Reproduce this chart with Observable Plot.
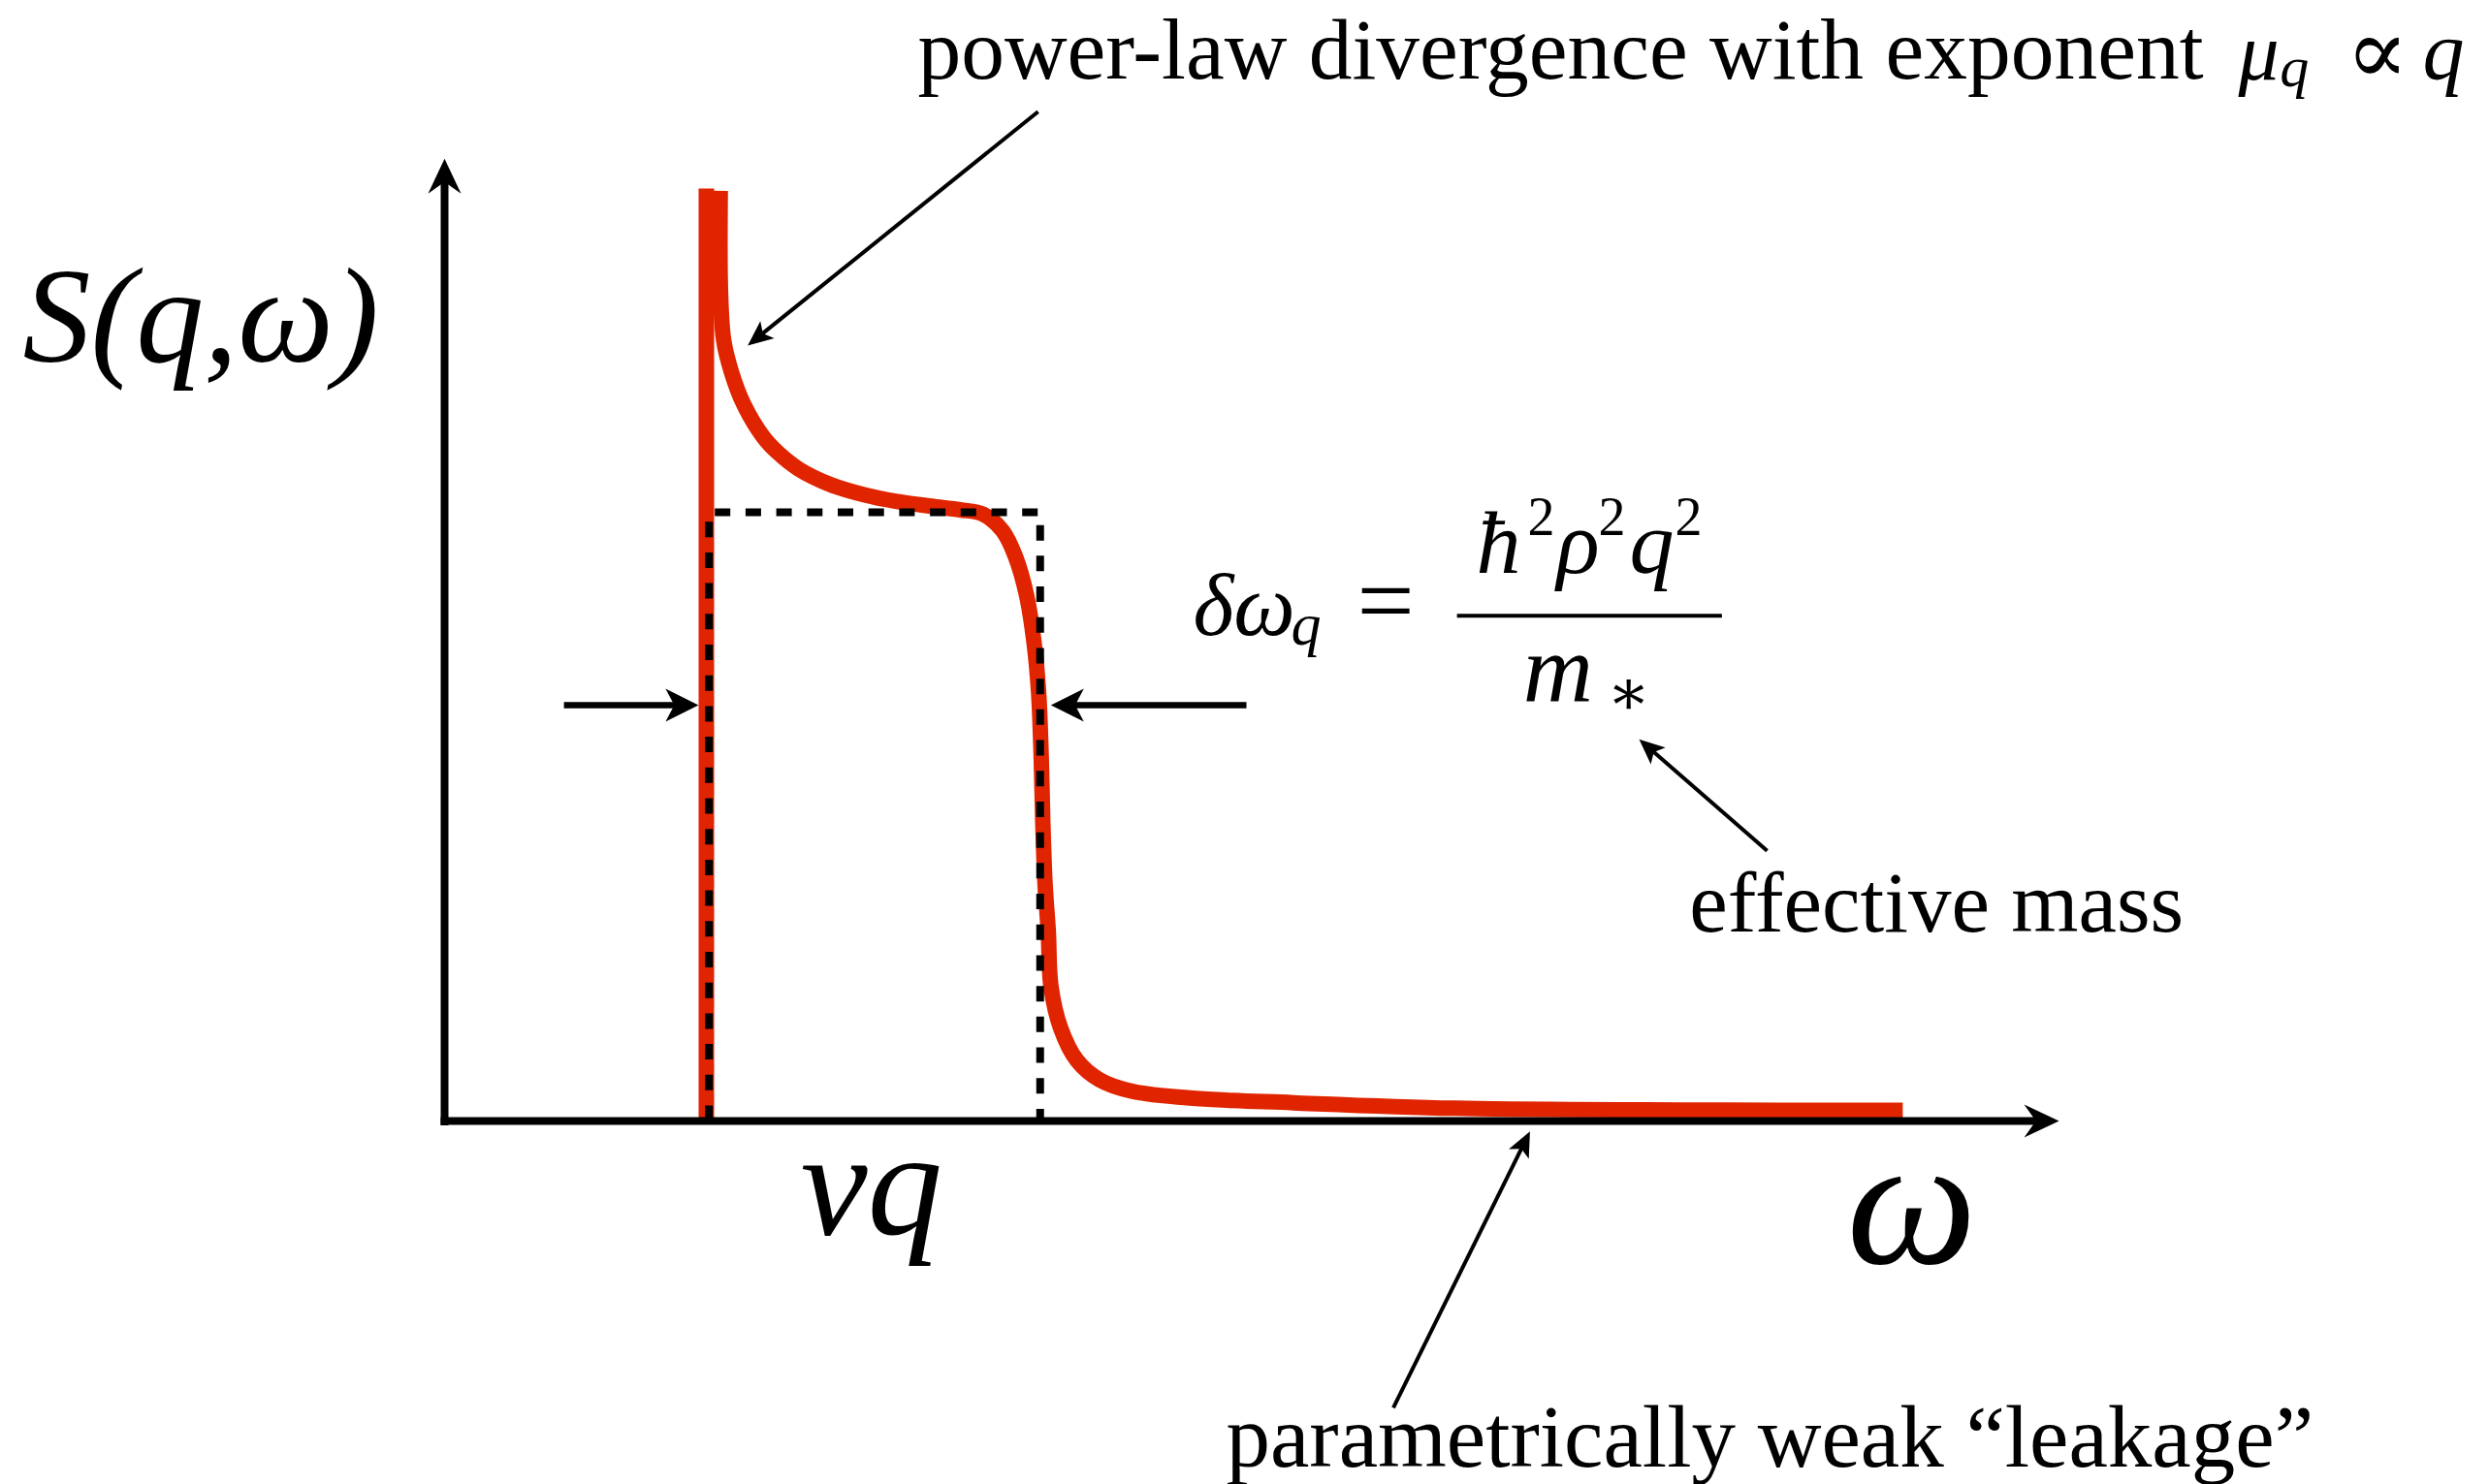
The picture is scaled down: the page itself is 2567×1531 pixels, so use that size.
<!DOCTYPE html>
<html>
<head>
<meta charset="utf-8">
<script src="https://cdn.jsdelivr.net/npm/d3@7"></script>
<script src="https://cdn.jsdelivr.net/npm/@observablehq/plot@0.6"></script>
<style>
  html, body { margin: 0; padding: 0; background: #fff; }
  svg { display: block; }
</style>
</head>
<body>
<div id="chart"></div>
<script>
// ω is measured in units of vq, S(q, ω) in units of the plateau height.

// Sharp threshold edge at ω = vq
const edgeOmega = [1.0, 1.0];
const edgeS = [0.0, 1.532];

// Power-law divergence, plateau, smeared upper edge and weak high-frequency tail
const branchOmega = [1.053, 1.054, 1.066, 1.096, 1.143, 1.217, 1.273, 1.353, 1.477, 1.600,
  1.723, 1.859, 1.970, 2.057, 2.131, 2.180, 2.223, 2.252, 2.269, 2.279, 2.285, 2.294,
  2.306, 2.316, 2.353, 2.415, 2.501, 2.625, 2.872, 3.242, 3.859, 4.785, 5.570];
const branchS = [1.528, 1.363, 1.283, 1.230, 1.177, 1.124, 1.098, 1.071, 1.045, 1.029,
  1.018, 1.010, 1.004, 0.997, 0.970, 0.928, 0.864, 0.785, 0.705, 0.599, 0.493, 0.387,
  0.312, 0.222, 0.153, 0.100, 0.068, 0.049, 0.037, 0.030, 0.021, 0.018, 0.0175];

// Free-fermion box between vq and vq + δω_q
const boxOmega = [1.01, 1.01, 2.275, 2.275];
const boxS = [0, 1.0, 1.0, 0];

// Coordinate axes (from, to)
const axisFrom = [[0, -0.007], [-0.015, 0]];
const axisTo = [[0, 1.581], [6.167, 0]];

// Arrows marking the width δω_q
const widthFrom = [[0.456, 0.683], [3.063, 0.683]];
const widthTo = [[0.970, 0.683], [2.316, 0.683]];

// Pointers from the captions
const pointerFrom = [[2.267, 1.658], [5.052, 0.444], [3.624, -0.471]];
const pointerTo = [[1.158, 1.274], [4.563, 0.627], [4.146, -0.017]];

const captions = [
  "power-law divergence with exponent",
  "effective mass",
  "parametrically weak \u201Cleakage\u201D"
];
const axisLabels = ["S(q,\u03C9)", "vq", "\u03C9"];

// ---------------------------------------------------------------------------
const W = 2567, H = 1531;
const xDomain = [-1.6963, 7.8111];
const yDomain = [-0.5971, 1.8408];
const kx = W / (xDomain[1] - xDomain[0]);
const ky = H / (yDomain[1] - yDomain[0]);

const red = "#e12400";
const serif = "'Liberation Serif', 'DejaVu Serif', serif";

const curve = [
  ...edgeOmega.map((w, i) => ({omega: w, s: edgeS[i], part: "edge"})),
  ...branchOmega.map((w, i) => ({omega: w, s: branchS[i], part: "branch"}))
];
const box = boxOmega.map((w, i) => ({omega: w, s: boxS[i]}));

// Arrow helpers: shaft stops short of the tip so the head stays sharp
function arrows(from, to, inset) {
  return from.map((a, i) => {
    const b = to[i];
    const dx = (b[0] - a[0]) * kx, dy = (b[1] - a[1]) * ky;
    const len = Math.hypot(dx, dy);
    return {
      x1: a[0], y1: a[1], x2: b[0], y2: b[1],
      ex: b[0] - (dx / len) * inset / kx,
      ey: b[1] - (dy / len) * inset / ky,
      angle: Math.atan2(dx, dy) * 180 / Math.PI
    };
  });
}
function stealth(len, half, notch) {
  return {
    draw(ctx) {
      ctx.moveTo(0, 0);
      ctx.lineTo(half, len);
      ctx.lineTo(0, len - notch);
      ctx.lineTo(-half, len);
      ctx.closePath();
    }
  };
}
function arrowMarks(data, width, head) {
  return [
    Plot.link(data, {x1: "x1", y1: "y1", x2: "ex", y2: "ey", stroke: "black", strokeWidth: width, strokeLinecap: "butt"}),
    Plot.dot(data, {x: "x2", y: "y2", symbol: head, rotate: "angle", r: 5, fill: "black", stroke: "none"})
  ];
}

const axes = arrows(axisFrom, axisTo, 14);
const widths = arrows(widthFrom, widthTo, 12);
const pointers = arrows(pointerFrom, pointerTo, 10);

// Text pieces (upright and italic), baseline-anchored
const uprightText = [
  {t: captions[0], x: 1.807, y: 1.713, s: 89.5},
  {t: "\u221D", x: 7.262, y: 1.704, s: 96},
  {t: "=", x: 3.485, y: 0.798, s: 105},
  {t: "2", x: 4.137, y: 0.962, s: 56},
  {t: "2", x: 4.407, y: 0.962, s: 56},
  {t: "2", x: 4.700, y: 0.962, s: 56},
  {t: "\u2217", x: 4.441, y: 0.668, s: 66},
  {t: captions[1], x: 4.755, y: 0.312, s: 89},
  {t: captions[2], x: 2.985, y: -0.568, s: 91}
];
const italicText = [
  {t: "\u03BC", x: 6.852, y: 1.711, s: 84},
  {t: "q", x: 7.010, y: 1.700, s: 60},
  {t: "q", x: 7.556, y: 1.713, s: 86},
  {t: axisLabels[0], x: -1.611, y: 1.247, s: 140},
  {t: axisLabels[1], x: 1.360, y: -0.185, s: 155},
  {t: axisLabels[2], x: 5.356, y: -0.234, s: 190},
  {t: "\u03B4\u03C9", x: 2.859, y: 0.798, s: 90},
  {t: "q", x: 3.233, y: 0.782, s: 62},
  {t: "\u0127", x: 3.941, y: 0.901, s: 92},
  {t: "\u03C1", x: 4.248, y: 0.901, s: 92},
  {t: "q", x: 4.526, y: 0.901, s: 92},
  {t: "m", x: 4.119, y: 0.691, s: 100}
];

const chart = Plot.plot({
  width: W,
  height: H,
  margin: 0,
  x: {domain: xDomain, axis: null},
  y: {domain: yDomain, axis: null},
  style: {background: "white", overflow: "visible"},
  marks: [
    Plot.line(curve, {x: "omega", y: "s", z: "part", stroke: red, strokeWidth: 16,
      curve: "catmull-rom", strokeLinecap: "butt", strokeLinejoin: "round"}),
    Plot.line(box, {x: "omega", y: "s", stroke: "black", strokeWidth: 8,
      strokeDasharray: "16,15.7", strokeLinejoin: "miter", strokeLinecap: "butt"}),
    ...arrowMarks(axes, 8, stealth(36, 17, 12)),
    ...arrowMarks(widths, 6.5, stealth(34, 17, 9)),
    ...arrowMarks(pointers, 4, stealth(26, 11.5, 6)),
    // fraction bar of δω_q
    Plot.ruleY([0.830], {x1: 3.869, x2: 4.881, stroke: "black", strokeWidth: 4}),
    Plot.text(uprightText, {x: "x", y: "y", text: "t", fontSize: "s", fontFamily: serif,
      textAnchor: "start", lineAnchor: "bottom", fill: "black"}),
    Plot.text(italicText, {x: "x", y: "y", text: "t", fontSize: "s", fontFamily: serif,
      fontStyle: "italic", textAnchor: "start", lineAnchor: "bottom", fill: "black"})
  ]
});

document.getElementById("chart").appendChild(chart);
</script>
</body>
</html>
